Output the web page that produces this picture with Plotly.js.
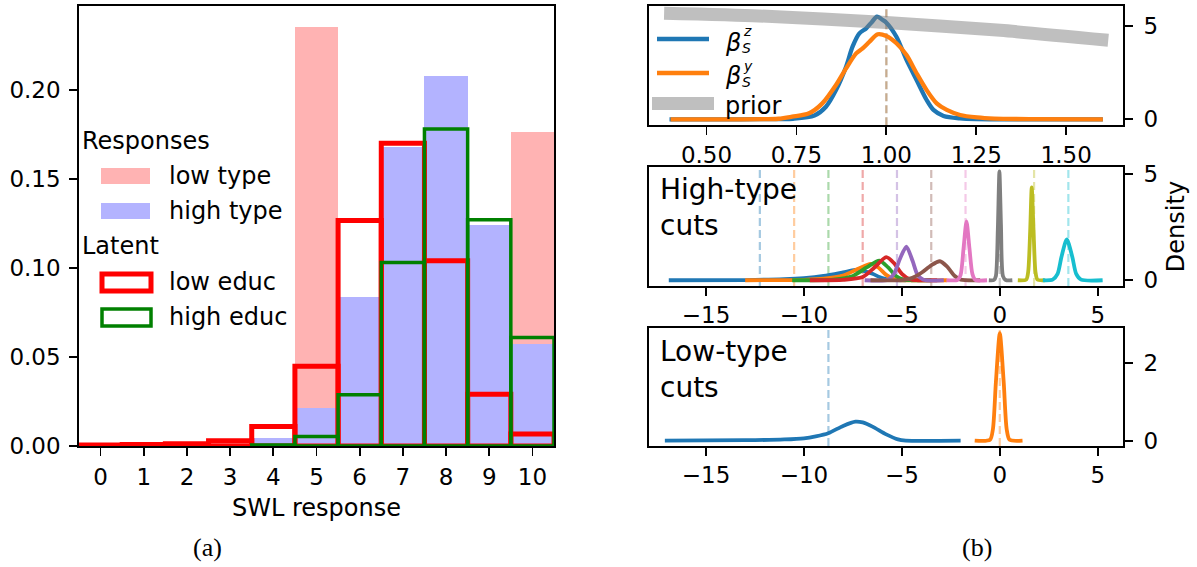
<!DOCTYPE html>
<html><head><meta charset="utf-8">
<script src="https://cdn.plot.ly/plotly-3.0.1.min.js"></script>
<style>html,body{margin:0;padding:0;background:#fff}#chart{width:1197px;height:567px}</style>
</head><body><div id="chart"></div>
<script>
// ---------- Panel (a): SWL response histograms ----------
const swlCategories = [0,1,2,3,4,5,6,7,8,9,10];
const respLowType  = [0, 0, 0, 0, 0, 0.235, 0, 0, 0, 0, 0.176];
const respHighType = [0, 0, 0, 0, 0.0043, 0.0213, 0.0836, 0.168, 0.2075, 0.124, 0.0575];
const latentLowEduc  = [0.0006, 0.0008, 0.0012, 0.003, 0.011, 0.0448, 0.1266, 0.170, 0.104, 0.029, 0.0067];
const latentHighEduc = [null, null, null, null, 0.0006, 0.0054, 0.0288, 0.103, 0.178, 0.127, 0.0609];
const yTicksA = [0, 0.05, 0.10, 0.15, 0.20];

// ---------- Panel (b) top: beta_S posteriors ----------
const betaZx = [0.397,0.55,0.65,0.74,0.80,0.832,0.86,0.888,0.906,0.925,0.944,0.96,0.974,0.99,1.00,1.028,1.056,1.084,1.112,1.131,1.159,1.205,1.25,1.40,1.602];
const betaZy = [0,0,0.005,0.03,0.2,0.67,1.56,2.81,3.88,4.59,4.86,5.2,5.48,5.3,5.16,4.41,3.17,2.10,1.03,0.5,0.18,0.05,0.01,0,0];
const betaYx = [0.40,0.55,0.70,0.738,0.785,0.822,0.86,0.888,0.916,0.934,0.953,0.976,1.00,1.028,1.056,1.084,1.112,1.14,1.168,1.205,1.252,1.30,1.40,1.602];
const betaYy = [0,0,0.03,0.14,0.32,0.85,1.83,2.72,3.52,3.79,4.14,4.54,4.45,4.06,3.43,2.46,1.56,0.85,0.5,0.23,0.1,0.04,0.01,0];
const priorX = [0.382, 0.645, 1.0, 1.317, 1.617];
const priorY = [5.66, 5.52, 5.17, 4.75, 4.22];
const betaTrue = [1.0, 1.0];

// ---------- Panel (b) middle: high-type cut posteriors ----------
const tab10 = ['#1f77b4','#ff7f0e','#2ca02c','#d62728','#9467bd','#8c564b','#e377c2','#7f7f7f','#bcbd22','#17becf'];
const highCutsTrue = [-12.25,-10.5,-8.75,-7,-5.25,-3.5,-1.75,0,1.75,3.5];
const highCut0x = [-16.9,-13,-11,-10,-9,-8,-7.4,-7,-6.5,-6,-5.5,-4.8];
const highCut0y = [0,0.01,0.05,0.1,0.2,0.37,0.48,0.45,0.3,0.1,0.02,0];
const highCut1x = [-13,-10,-9,-8,-7.2,-6.6,-6.2,-5.8,-5.4,-5,-2.7];
const highCut1y = [0,0.02,0.07,0.22,0.55,0.77,0.6,0.25,0.05,0,0];
const highCut2x = [-10.6,-8.5,-7.5,-6.8,-6.15,-5.7,-5.3,-4.9,-4.5,-3.5];
const highCut2y = [0,0.03,0.2,0.6,0.92,0.6,0.2,0.03,0,0];
const highCut3x = [-9.7,-8,-7,-6.4,-5.8,-5.4,-5.0,-4.6,-4.2,-3.2];
const highCut3y = [0,0.02,0.15,0.6,1.08,0.8,0.3,0.05,0,0];
const highCut4x = [-6.9,-5.7,-5.4,-5.1,-4.77,-4.45,-4.2,-3.9,-2.86];
const highCut4y = [0,0.02,0.3,1.0,1.57,0.9,0.25,0.02,0];
const highCut5x = [-6.6,-5,-4.5,-4,-3.5,-3.06,-2.7,-2.3,-2.0,-1.0];
const highCut5y = [0,0.01,0.1,0.35,0.7,0.89,0.65,0.2,0.03,0];
const highCut6x = [-2.72,-2.15,-2.0,-1.85,-1.7,-1.55,-1.4,-1.25,-0.65];
const highCut6y = [0,0.02,0.25,1.5,2.76,1.5,0.3,0.02,0];
const highCut7x = [-0.56,-0.3,-0.2,-0.1,-0.02,0.06,0.16,0.3,0.64];
const highCut7y = [0,0.01,0.2,2.4,5.1,2.6,0.2,0.01,0];
const highCut8x = [0.92,1.35,1.45,1.55,1.63,1.72,1.82,1.92,2.3];
const highCut8y = [0,0.03,0.4,2.3,4.35,2.4,0.4,0.03,0];
const highCut9x = [2.2,2.7,2.95,3.15,3.42,3.7,3.9,4.15,5.25];
const highCut9y = [0,0.03,0.3,1.1,1.92,1.1,0.3,0.03,0];
const highCutsX = [highCut0x,highCut1x,highCut2x,highCut3x,highCut4x,highCut5x,highCut6x,highCut7x,highCut8x,highCut9x];
const highCutsY = [highCut0y,highCut1y,highCut2y,highCut3y,highCut4y,highCut5y,highCut6y,highCut7y,highCut8y,highCut9y];

// ---------- Panel (b) bottom: low-type cut posteriors ----------
const lowCutsTrue = [-8.75, 0];
const lowCut0x = [-17.1,-13,-11,-10,-9.4,-8.76,-8,-7.37,-7,-6.5,-5.8,-5.2,-4.8,-2.0];
const lowCut0y = [0,0.01,0.03,0.06,0.11,0.19,0.38,0.49,0.47,0.36,0.16,0.03,0,0];
const lowCut1x = [-1.28,-0.5,-0.35,-0.2,0,0.2,0.35,0.5,1.16];
const lowCut1y = [0,0.02,0.3,1.5,2.77,1.5,0.3,0.02,0];

// ---------- helpers ----------
const W = 1197, H = 567;
const px = X => X / W;
const py = Y => 1 - Y / H;
const FONT = 'DejaVu Sans';
function ax(extra) {
  return Object.assign({
    showline: true, linecolor: 'black', linewidth: 1.8, mirror: true,
    ticks: 'outside', ticklen: 8, tickwidth: 1.8, tickcolor: 'black',
    showgrid: false, zeroline: false, fixedrange: true,
    tickfont: {family: FONT, size: 23, color: 'black'}
  }, extra);
}
function hexA(hex, a) {
  const r = parseInt(hex.slice(1,3),16), g = parseInt(hex.slice(3,5),16), b = parseInt(hex.slice(5,7),16);
  return `rgba(${r},${g},${b},${a})`;
}

const traces = [];
// panel (a)
traces.push({type:'bar', x: swlCategories, y: respLowType, width: 1, xaxis:'x', yaxis:'y',
  marker:{color:'#ffb3b3', line:{width:0}}, hoverinfo:'skip'});
traces.push({type:'bar', x: swlCategories, y: respHighType, width: 1, xaxis:'x', yaxis:'y',
  marker:{color:'#b3b3ff', line:{width:0}}, hoverinfo:'skip'});
traces.push({type:'bar', x: swlCategories, y: latentLowEduc, width: 1, xaxis:'x', yaxis:'y',
  marker:{color:'rgba(0,0,0,0)', line:{color:'#ff0000', width:5}}, hoverinfo:'skip'});
traces.push({type:'bar', x: swlCategories, y: latentHighEduc, width: 1, xaxis:'x', yaxis:'y',
  marker:{color:'rgba(0,0,0,0)', line:{color:'#008000', width:3.5}}, hoverinfo:'skip'});

// panel (b) top
traces.push({type:'scatter', mode:'lines', x: betaZx, y: betaZy, xaxis:'x2', yaxis:'y2',
  line:{color: tab10[0], width: 4.3, shape:'spline', smoothing:0.8}, hoverinfo:'skip'});
traces.push({type:'scatter', mode:'lines', x: betaYx, y: betaYy, xaxis:'x2', yaxis:'y2',
  line:{color: tab10[1], width: 4.3, shape:'spline', smoothing:0.8}, hoverinfo:'skip'});
traces.push({type:'scatter', mode:'lines', x: priorX, y: priorY, xaxis:'x2', yaxis:'y2',
  line:{color:'rgba(128,128,128,0.5)', width: 13, shape:'spline', smoothing:0.6}, hoverinfo:'skip'});

// panel (b) middle
for (let i = 0; i < highCutsX.length; i++) {
  traces.push({type:'scatter', mode:'lines', x: highCutsX[i], y: highCutsY[i], xaxis:'x3', yaxis:'y3',
    line:{color: tab10[i], width: 3.8, shape:'spline', smoothing:0.7}, hoverinfo:'skip'});
}
// panel (b) bottom
traces.push({type:'scatter', mode:'lines', x: lowCut0x, y: lowCut0y, xaxis:'x4', yaxis:'y4',
  line:{color: tab10[0], width: 3.8, shape:'spline', smoothing:0.7}, hoverinfo:'skip'});
traces.push({type:'scatter', mode:'lines', x: lowCut1x, y: lowCut1y, xaxis:'x4', yaxis:'y4',
  line:{color: tab10[1], width: 3.8, shape:'spline', smoothing:0.7}, hoverinfo:'skip'});

// ---------- shapes ----------
const shapes = [];
const dash = '8px,4px';
betaTrue.forEach((v, i) => shapes.push({type:'line', xref:'x2', yref:'y2 domain', x0:v, x1:v, y0:0, y1:1,
  line:{color: hexA(tab10[i], 0.4), width: 2.2, dash: dash}, layer:'below'}));
highCutsTrue.forEach((v, i) => shapes.push({type:'line', xref:'x3', yref:'y3 domain', x0:v, x1:v, y0:0, y1:1,
  line:{color: hexA(tab10[i], 0.4), width: 2.2, dash: dash}, layer:'below'}));
lowCutsTrue.forEach((v, i) => shapes.push({type:'line', xref:'x4', yref:'y4 domain', x0:v, x1:v, y0:0, y1:1,
  line:{color: hexA(tab10[i], 0.4), width: 2.2, dash: dash}, layer:'below'}));

// legend (a)
shapes.push({type:'rect', xref:'paper', yref:'paper', x0:px(101), x1:px(150), y0:py(184), y1:py(168), fillcolor:'#ffb3b3', line:{width:0}});
shapes.push({type:'rect', xref:'paper', yref:'paper', x0:px(101), x1:px(150), y0:py(219), y1:py(203), fillcolor:'#b3b3ff', line:{width:0}});
shapes.push({type:'rect', xref:'paper', yref:'paper', x0:px(102), x1:px(151), y0:py(291), y1:py(274), fillcolor:'rgba(0,0,0,0)', line:{color:'#ff0000', width:5}});
shapes.push({type:'rect', xref:'paper', yref:'paper', x0:px(102), x1:px(151), y0:py(326), y1:py(309), fillcolor:'rgba(0,0,0,0)', line:{color:'#008000', width:3.5}});
// legend (b) top
shapes.push({type:'line', xref:'paper', yref:'paper', x0:px(657), x1:px(709), y0:py(39), y1:py(39), line:{color:tab10[0], width:4.3}});
shapes.push({type:'line', xref:'paper', yref:'paper', x0:px(657), x1:px(709), y0:py(73), y1:py(73), line:{color:tab10[1], width:4.3}});
shapes.push({type:'line', xref:'paper', yref:'paper', x0:px(652), x1:px(714), y0:py(103.5), y1:py(103.5), line:{color:'rgba(128,128,128,0.5)', width:13}});

// ---------- annotations ----------
const tf = (size, extra) => Object.assign({family: FONT, size: size, color:'black'}, extra || {});
function txt(text, X, Y, size, opts) {
  return Object.assign({text: text, xref:'paper', yref:'paper', x: px(X), y: py(Y), showarrow:false,
    xanchor:'left', yanchor:'middle', font: tf(size), align:'left', borderpad:0}, opts || {});
}
const annotations = [
  txt('Responses', 81, 141, 24),
  txt('low type', 168, 176, 24),
  txt('high type', 168, 211, 24),
  txt('Latent', 81, 246, 24),
  txt('low educ', 168, 282, 24),
  txt('high educ', 168, 317, 24),
  txt('<i>β</i>', 724, 43, 24),
  txt('<i>z</i>', 742, 31, 14),
  txt('<i>S</i>', 741, 48.5, 14),
  txt('<i>β</i>', 724, 76, 24),
  txt('<i>y</i>', 742, 65.5, 14),
  txt('<i>S</i>', 741, 82.5, 14),
  txt('prior', 724, 105.5, 24),
  txt('High-type<br>cuts', 659, 172, 28, {yanchor:'top'}),
  txt('Low-type<br>cuts', 659, 334, 28, {yanchor:'top'}),
  {text:'(a)', xref:'paper', yref:'paper', x: px(207), y: py(547), showarrow:false, xanchor:'center', yanchor:'middle',
   font:{family:'Liberation Serif', size:26, color:'black'}},
  {text:'(b)', xref:'paper', yref:'paper', x: px(977), y: py(547), showarrow:false, xanchor:'center', yanchor:'middle',
   font:{family:'Liberation Serif', size:26, color:'black'}}
];

const xRight = [px(649), px(1123)];
const layout = {
  width: W, height: H, margin:{l:0, r:0, t:0, b:0}, paper_bgcolor:'white', plot_bgcolor:'white',
  showlegend:false, barmode:'overlay', bargap:0,
  xaxis: ax({domain:[px(79), px(554)], anchor:'y', range:[-0.5, 10.5], tickvals: swlCategories, ticklabelstandoff: 2,
    title:{text:'SWL response', font: tf(24), standoff: 10}}),
  yaxis: ax({domain:[py(446), py(6)], anchor:'x', range:[0, 0.247], tickvals: yTicksA, tickformat:'.2f', ticklabelstandoff: 4}),
  xaxis2: ax({domain: xRight, anchor:'y2', range:[0.34, 1.658], tickvals:[0.5,0.75,1.0,1.25,1.5], tickformat:'.2f'}),
  yaxis2: ax({domain:[py(125.3), py(6)], anchor:'x2', side:'right', range:[-0.32, 6.05], tickvals:[0,5], ticklabelstandoff: 6}),
  xaxis3: ax({domain: xRight, anchor:'y3', range:[-17.91, 6.29], tickvals:[-15,-10,-5,0,5]}),
  yaxis3: ax({domain:[py(286), py(167)], anchor:'x3', side:'right', range:[-0.27, 5.31], tickvals:[0,5], ticklabelstandoff: 6,
    title:{text:'Density', font: tf(24), standoff: 10}}),
  xaxis4: ax({domain: xRight, anchor:'y4', range:[-17.91, 6.29], tickvals:[-15,-10,-5,0,5]}),
  yaxis4: ax({domain:[py(446), py(328)], anchor:'x4', side:'right', range:[-0.139, 2.905], tickvals:[0,2], ticklabelstandoff: 6}),
  shapes: shapes,
  annotations: annotations
};

Plotly.newPlot('chart', traces, layout, {displayModeBar:false, staticPlot:true});
</script>
</body></html>
